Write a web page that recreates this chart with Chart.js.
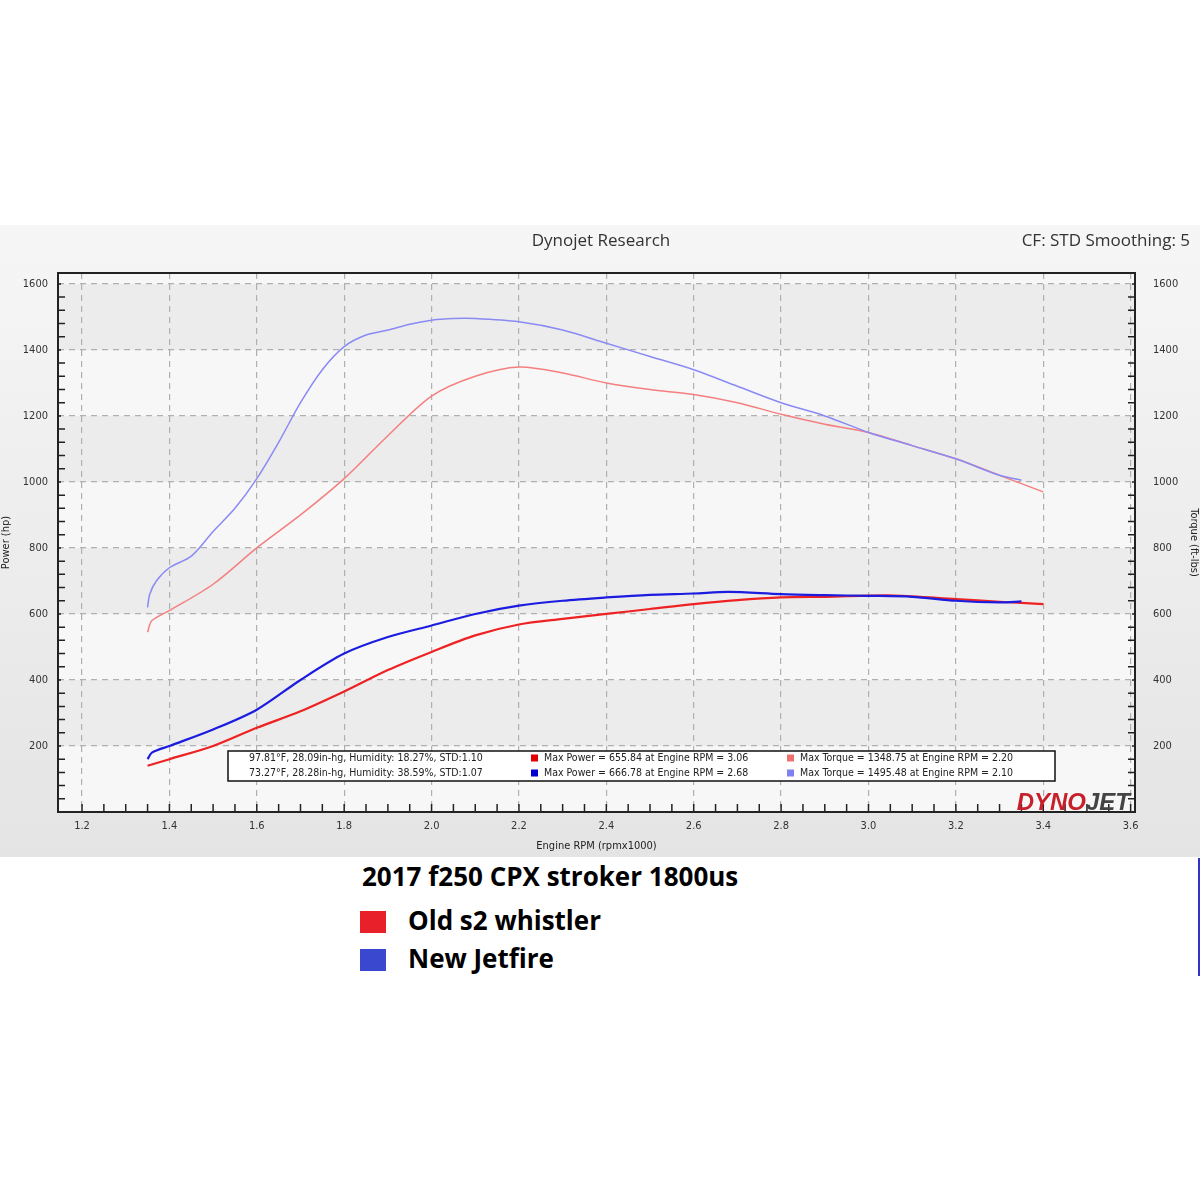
<!DOCTYPE html>
<html><head><meta charset="utf-8">
<script src="https://cdn.jsdelivr.net/npm/chart.js"></script>
<style>
body{margin:0;background:#fff;width:1200px;height:1200px;position:relative;font-family:"Open Sans",sans-serif;overflow:hidden}
#c{position:absolute;left:0;top:0}
#t{position:absolute;left:362px;top:858px;font:bold 26px "Open Sans";color:#000}
.lg{position:absolute;left:360px;font:bold 26px "Open Sans";color:#000}
.sw{display:inline-block;width:26px;height:22px;vertical-align:-3px;margin-right:22px}
#vl{position:absolute;left:1198px;top:858px;width:2px;height:118px;background:#3333cc}
</style></head><body>
<canvas id="c" width="1200" height="857"></canvas>
<div id="t">2017 f250 CPX stroker 1800us</div>
<div class="lg" style="top:902px"><span class="sw" style="background:#e8202a"></span>Old s2 whistler</div>
<div class="lg" style="top:940px"><span class="sw" style="background:#3a48d0"></span>New Jetfire</div>
<div id="vl"></div>
<script>
const blueTorqueX=[1.35,1.355,1.37,1.4,1.45,1.5,1.55,1.6,1.65,1.7,1.75,1.8,1.85,1.9,1.95,2.0,2.05,2.1,2.2,2.3,2.4,2.5,2.6,2.7,2.8,2.9,3.0,3.1,3.2,3.3,3.35];
const blueTorqueY=[620,660,700,740,775,850,920,1010,1120,1240,1340,1410,1445,1460,1478,1490,1495,1495,1485,1460,1420,1380,1340,1290,1240,1200,1150,1110,1070,1020,1005];
const redTorqueX=[1.35,1.36,1.4,1.5,1.6,1.7,1.8,1.9,2.0,2.1,2.2,2.3,2.4,2.5,2.6,2.7,2.8,2.9,3.0,3.1,3.2,3.3,3.4];
const redTorqueY=[545,580,610,690,800,900,1010,1140,1260,1320,1348,1330,1300,1280,1265,1240,1205,1175,1150,1110,1070,1020,970];
const bluePowerX=[1.35,1.36,1.4,1.5,1.6,1.7,1.8,1.9,2.0,2.1,2.2,2.3,2.4,2.5,2.6,2.68,2.8,2.9,3.0,3.1,3.2,3.3,3.35];
const bluePowerY=[160,180,200,250,310,400,480,530,565,600,625,640,650,658,662,667,660,657,655,652,640,635,638];
const redPowerX=[1.35,1.4,1.5,1.6,1.7,1.8,1.9,2.0,2.1,2.2,2.3,2.4,2.5,2.6,2.7,2.8,2.9,3.06,3.2,3.3,3.4];
const redPowerY=[140,160,200,255,305,365,430,485,535,568,585,600,615,630,642,650,652,656,645,637,630];
const xTicks=[1.2,1.4,1.6,1.8,2.0,2.2,2.4,2.6,2.8,3.0,3.2,3.4,3.6];
const yTicks=[200,400,600,800,1000,1200,1400,1600];
const infoLines=[
 ["97.81°F, 28.09in-hg, Humidity: 18.27%, STD:1.10","Max Power = 655.84 at Engine RPM = 3.06","Max Torque = 1348.75 at Engine RPM = 2.20","#e00000","#f07070"],
 ["73.27°F, 28.28in-hg, Humidity: 38.59%, STD:1.07","Max Power = 666.78 at Engine RPM = 2.68","Max Torque = 1495.48 at Engine RPM = 2.10","#0000d0","#8080f0"]];
const pts=(xs,ys)=>xs.map((x,i)=>({x,y:ys[i]}));
const deco={id:'deco',
 beforeDraw(ch){const c=ch.ctx,a=ch.chartArea,y=ch.scales.y;
  const g=c.createLinearGradient(0,225,0,857);g.addColorStop(0,'#f6f6f6');g.addColorStop(1,'#e4e4e4');
  c.fillStyle=g;c.fillRect(0,225,1200,632);
  c.fillStyle='#f7f7f7';c.fillRect(a.left,a.top,a.width,a.height);
  for(let v=200;v<1600;v+=400){const t=y.getPixelForValue(v+200),b=y.getPixelForValue(v);c.fillStyle='#ececec';c.fillRect(a.left,t,a.width,b-t);}
  c.fillStyle='#333';c.font='17px "Open Sans"';c.textAlign='center';c.fillText('Dynojet Research',601,246);
  c.textAlign='right';c.fillText('CF: STD Smoothing: 5',1190,246);
 },
 afterDatasetsDraw(ch){const c=ch.ctx,a=ch.chartArea,x=ch.scales.x,y=ch.scales.y;
  c.setLineDash([]);
  c.strokeStyle='#222';c.lineWidth=2;c.strokeRect(a.left,a.top,a.width,a.height);
  c.lineWidth=1.5;
  for(let v=40;v<1640;v+=40){const p=y.getPixelForValue(v);if(p<a.top)continue;
   const L=v%200?7:3;
   c.beginPath();c.moveTo(a.left,p);c.lineTo(a.left+L,p);c.moveTo(a.right,p);c.lineTo(a.right-L,p);c.stroke();}
  for(let v=1.2;v<3.61;v+=0.05){const p=x.getPixelForValue(v);c.beginPath();c.moveTo(p,a.bottom);c.lineTo(p,a.bottom-8);c.stroke();}
  c.fillStyle='#fff';c.fillRect(228,751,827,30);c.strokeStyle='#111';c.lineWidth=1.5;c.strokeRect(228,751,827,30);
  c.font='10.5px "DejaVu Sans Condensed", "Liberation Sans Narrow", sans-serif';c.textAlign='left';c.textBaseline='middle';
  infoLines.forEach((l,i)=>{const yy=758+i*15;c.fillStyle='#222';c.fillText(l[0],249,yy);
   c.fillStyle=l[3];c.fillRect(531,yy-3.5,7,7);c.fillStyle='#222';c.fillText(l[1],544,yy);
   c.fillStyle=l[4];c.fillRect(787,yy-3.5,7,7);c.fillStyle='#222';c.fillText(l[2],800,yy);});
  c.font='italic bold 24px "Liberation Sans", sans-serif';c.textBaseline='alphabetic';c.textAlign='left';
  const w1=c.measureText('DYNO').width,w2=c.measureText('JET').width,x0=1130-w1-w2;
  c.fillStyle='#c8202a';c.fillText('DYNO',x0,810);c.fillStyle='#444';c.fillText('JET',x0+w1,810);
 }};
const tf={size:11,family:'"DejaVu Sans Condensed", sans-serif'};
const grid={color:'#b0b0b0',drawTicks:false,lineWidth:1.2};
new Chart(document.getElementById('c'),{type:'scatter',
 data:{datasets:[
  {data:pts(blueTorqueX,blueTorqueY),borderColor:'#8a8af5',borderWidth:1.5},
  {data:pts(redTorqueX,redTorqueY),borderColor:'#f57f7f',borderWidth:1.5},
  {data:pts(bluePowerX,bluePowerY),borderColor:'#1c1ce0',borderWidth:2.2},
  {data:pts(redPowerX,redPowerY),borderColor:'#ee2222',borderWidth:2.2}
 ].map(d=>Object.assign(d,{showLine:true,pointRadius:0,tension:0.3,fill:false}))},
 plugins:[deco],
 options:{responsive:false,animation:false,layout:{padding:{top:273}},
  plugins:{legend:{display:false},tooltip:{enabled:false}},
  scales:{
   x:{type:'linear',min:1.145,max:3.61,afterBuildTicks(s){s.ticks=xTicks.map(v=>({value:v}));},
    afterFit(s){s.height=45;},
    grid,border:{display:false,dash:[6,5]},
    ticks:{padding:8,font:tf,color:'#333',callback:v=>v.toFixed(1)},
    title:{display:true,text:'Engine RPM (rpmx1000)',padding:{top:2},font:tf,color:'#222'}},
   y:{position:'left',min:0,max:1633,afterBuildTicks(s){s.ticks=yTicks.map(v=>({value:v}));},
    afterFit(s){s.width=58;},
    grid,border:{display:false,dash:[6,5]},
    ticks:{padding:10,font:tf,color:'#333',callback:v=>String(v)},
    title:{display:true,text:'Power (hp)',padding:0,font:tf,color:'#222'}},
   y2:{position:'right',min:0,max:1633,afterBuildTicks(s){s.ticks=yTicks.map(v=>({value:v}));},
    afterFit(s){s.width=65;},
    grid:{display:false},border:{display:false},
    ticks:{padding:10,font:tf,color:'#333',callback:v=>String(v)},
    title:{display:true,text:'Torque (ft-lbs)',padding:0,font:tf,color:'#222'}}
  }}});
</script></body></html>
